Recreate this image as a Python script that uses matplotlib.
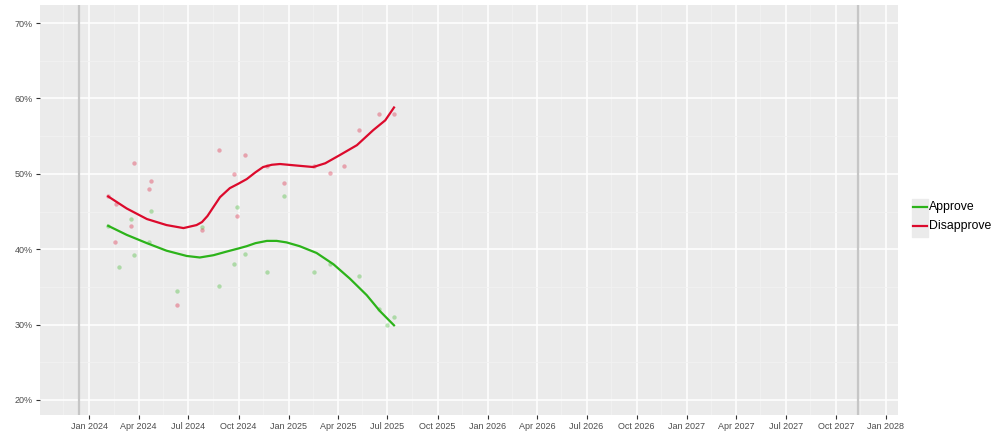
import pandas as pd
import matplotlib
matplotlib.use("Agg")
import matplotlib.pyplot as plt
import matplotlib.dates as mdates
from matplotlib.ticker import MultipleLocator, FuncFormatter
from matplotlib.patches import Rectangle
from matplotlib.lines import Line2D

plt.rcParams["font.family"] = ["Liberation Sans", "DejaVu Sans"]

# poll results (%)
approve_dates = ["2024-02-05", "2024-02-25", "2024-03-17", "2024-03-23", "2024-04-19",
                 "2024-04-24", "2024-06-10", "2024-07-26", "2024-08-26", "2024-09-22",
                 "2024-09-28", "2024-10-12", "2024-11-22", "2024-12-23", "2025-02-17",
                 "2025-03-17", "2025-05-09", "2025-06-16", "2025-06-30", "2025-07-13"]
approve_vals = [43.1, 37.7, 44.0, 39.2, 41.0, 45.1, 34.5, 42.9, 35.1, 38.0,
                45.6, 39.4, 37.0, 47.1, 37.0, 38.0, 36.4, 32.0, 29.9, 31.0]

disapprove_dates = ["2024-02-05", "2024-02-19", "2024-02-18", "2024-03-17", "2024-03-23",
                    "2024-04-19", "2024-04-24", "2024-06-10", "2024-07-26", "2024-08-26",
                    "2024-09-22", "2024-09-28", "2024-10-12", "2024-11-22", "2024-12-23",
                    "2025-02-17", "2025-03-17", "2025-04-13", "2025-05-09", "2025-06-16",
                    "2025-07-13"]
disapprove_vals = [47.1, 46.0, 41.0, 43.1, 51.4, 48.0, 49.0, 32.6, 42.5, 53.1,
                   50.0, 44.4, 52.5, 51.1, 48.8, 51.1, 50.1, 51.0, 55.8, 58.0, 58.0]

# smoothed trend lines
approve_trend_dates = ["2024-02-05", "2024-03-10", "2024-04-16", "2024-05-22", "2024-06-28",
                       "2024-07-22", "2024-08-16", "2024-09-10", "2024-10-01", "2024-10-16",
                       "2024-11-01", "2024-11-22", "2024-12-10", "2024-12-28", "2025-01-21",
                       "2025-02-21", "2025-03-24", "2025-04-23", "2025-05-24", "2025-06-17",
                       "2025-07-13"]
approve_trend = [43.1, 41.9, 40.8, 39.8, 39.1, 38.9, 39.2, 39.7, 40.1, 40.4,
                 40.8, 41.1, 41.1, 40.9, 40.4, 39.5, 38.0, 36.1, 33.9, 31.8,
                 29.9]

disapprove_trend_dates = ["2024-02-05", "2024-03-10", "2024-04-16", "2024-05-22", "2024-06-22",
                          "2024-07-16", "2024-07-26", "2024-08-05", "2024-08-16", "2024-08-28",
                          "2024-09-15", "2024-10-01", "2024-10-16", "2024-11-01", "2024-11-15",
                          "2024-12-01", "2024-12-16", "2025-01-15", "2025-02-15", "2025-03-09",
                          "2025-04-05", "2025-05-06", "2025-06-05", "2025-06-27", "2025-07-13"]
disapprove_trend = [47.0, 45.4, 44.0, 43.2, 42.8, 43.2, 43.6, 44.4, 45.6, 46.9,
                    48.1, 48.7, 49.3, 50.2, 50.9, 51.2, 51.3, 51.1, 50.9, 51.4,
                    52.5, 53.8, 55.8, 57.1, 58.8]

marker_dates = ["2023-12-14", "2027-11-11"]

GREEN = "#2cb31a"
RED = "#dc0a2c"

fig = plt.figure(figsize=(10, 4.45), dpi=100)
ax = fig.add_axes([0.04, 0.0674, 0.858, 0.9214])
ax.set_facecolor("#ebebeb")

for d in marker_dates:
    ax.axvline(pd.Timestamp(d), color="#c6c6c6", lw=1.6, zorder=1)

ax.scatter(pd.to_datetime(approve_dates), approve_vals, s=10, color=GREEN,
           alpha=0.32, lw=0, zorder=3)
ax.scatter(pd.to_datetime(disapprove_dates), disapprove_vals, s=10, color=RED,
           alpha=0.32, lw=0, zorder=3)
ax.plot(pd.to_datetime(approve_trend_dates), approve_trend, color=GREEN, lw=1.6,
        solid_joinstyle="round", zorder=4)
ax.plot(pd.to_datetime(disapprove_trend_dates), disapprove_trend, color=RED, lw=1.6,
        solid_joinstyle="round", zorder=4)

ax.set_xlim(pd.Timestamp("2023-10-03"), pd.Timestamp("2028-01-23"))
ax.set_ylim(18.0, 72.4)

ax.xaxis.set_major_locator(mdates.MonthLocator(bymonth=(1, 4, 7, 10)))
ax.xaxis.set_minor_locator(mdates.MonthLocator(bymonth=(2, 5, 8, 11), bymonthday=15))
ax.xaxis.set_major_formatter(mdates.DateFormatter("%b %Y"))
ax.yaxis.set_major_locator(MultipleLocator(10))
ax.yaxis.set_minor_locator(MultipleLocator(5))
ax.yaxis.set_major_formatter(FuncFormatter(lambda v, p: f"{v:.0f}%"))

ax.grid(which="major", color="white", lw=1.1, zorder=0)
ax.grid(which="minor", color="#f2f2f2", lw=0.6, zorder=0)
ax.set_axisbelow(True)
for s in ax.spines.values():
    s.set_visible(False)
ax.tick_params(which="major", length=3, width=0.8, color="#333333",
               labelsize=6.5, labelcolor="#4d4d4d", pad=2)
ax.tick_params(which="minor", length=0)

# legend with grey key boxes
fig.patches.append(Rectangle((0.912, 1 - 237 / 445), 0.016, 38 / 445,
                             transform=fig.transFigure, color="#ebebeb", zorder=0))
for y, c, lab in [(207, GREEN, "Approve"), (226, RED, "Disapprove")]:
    yf = 1 - y / 445
    fig.add_artist(Line2D([0.913, 0.927], [yf, yf], color=c, lw=1.6,
                          transform=fig.transFigure))
    fig.text(0.929, yf, lab, fontsize=8.8, va="center", ha="left", color="black")

fig.savefig("out.png", dpi=100)
